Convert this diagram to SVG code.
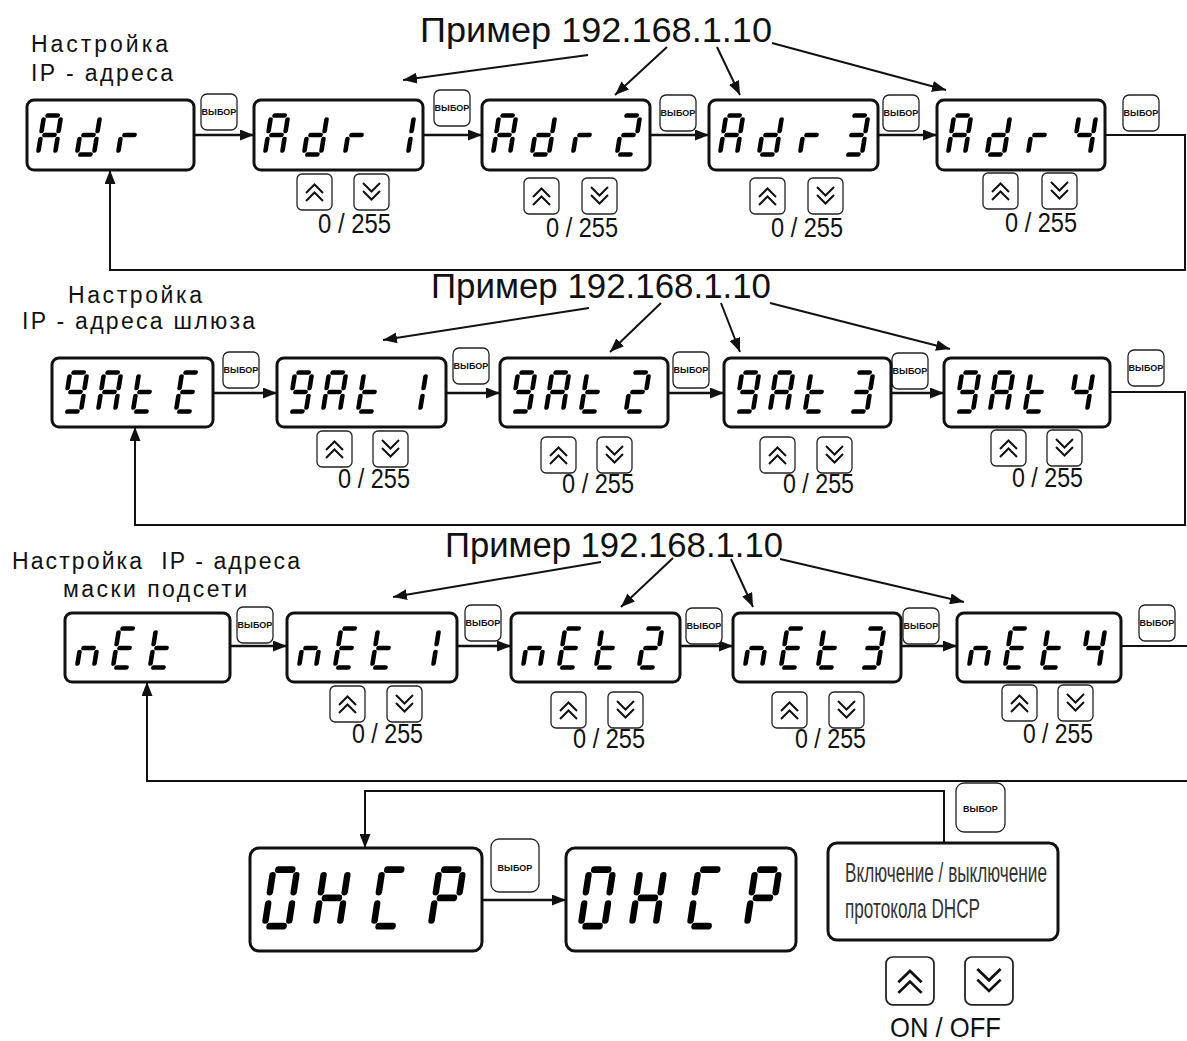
<svg xmlns="http://www.w3.org/2000/svg" xmlns:xlink="http://www.w3.org/1999/xlink" width="1187" height="1041" viewBox="0 0 1187 1041">
<style>
.box{fill:#fff;stroke:#111;stroke-width:3}
.btn{fill:#fff;stroke:#222;stroke-width:1.3}
.btxt{font-family:"Liberation Sans",Arial,sans-serif;font-weight:bold;font-size:9px;fill:#111}
.seg{stroke:#000;stroke-width:4.6;stroke-linecap:round}
.chev{fill:none;stroke:#111;stroke-width:2}
.lbl{font-family:"Liberation Sans",Arial,sans-serif;font-size:23px;fill:#111}
.ex{font-family:"Liberation Sans",Arial,sans-serif;font-size:35px;fill:#111}
.val{font-family:"Liberation Sans",Arial,sans-serif;font-size:28px;fill:#111}
.dtx{font-family:"Liberation Sans",Arial,sans-serif;font-size:28px;fill:#333}
.conn{fill:none;stroke:#111;stroke-width:2.5}
.thin{fill:none;stroke:#111;stroke-width:2}
</style>
<defs>
<marker id="ah" markerUnits="userSpaceOnUse" markerWidth="14" markerHeight="11" refX="14" refY="5.5" orient="auto"><path d="M0,0 L14,5.5 L0,11 z" fill="#111"/></marker>
<line id="sa" class="seg" x1="5" y1="2.5" x2="15" y2="2.5"/>
<line id="sb" class="seg" x1="18.5" y1="6.5" x2="18.5" y2="18"/>
<line id="sc" class="seg" x1="18.5" y1="26" x2="18.5" y2="37.5"/>
<line id="sd" class="seg" x1="5" y1="41.5" x2="15" y2="41.5"/>
<line id="se" class="seg" x1="1.5" y1="26" x2="1.5" y2="37.5"/>
<line id="sf" class="seg" x1="1.5" y1="6.5" x2="1.5" y2="18"/>
<line id="sg" class="seg" x1="5" y1="22" x2="15" y2="22"/>
<g id="cA"><use href="#sa"/><use href="#sb"/><use href="#sc"/><use href="#se"/><use href="#sf"/><use href="#sg"/></g>
<g id="cd"><use href="#sb"/><use href="#sc"/><use href="#sd"/><use href="#se"/><use href="#sg"/></g>
<g id="cr"><use href="#se"/><use href="#sg"/></g>
<g id="c1"><use href="#sb"/><use href="#sc"/></g>
<g id="c2"><use href="#sa"/><use href="#sb"/><use href="#sg"/><use href="#se"/><use href="#sd"/></g>
<g id="c3"><use href="#sa"/><use href="#sb"/><use href="#sg"/><use href="#sc"/><use href="#sd"/></g>
<g id="c4"><use href="#sf"/><use href="#sg"/><use href="#sb"/><use href="#sc"/></g>
<g id="c9"><use href="#sa"/><use href="#sb"/><use href="#sc"/><use href="#sd"/><use href="#sf"/><use href="#sg"/></g>
<g id="ct"><use href="#sf"/><use href="#se"/><use href="#sg"/><use href="#sd"/></g>
<g id="cE"><use href="#sa"/><use href="#sf"/><use href="#sg"/><use href="#se"/><use href="#sd"/></g>
<g id="cn"><use href="#sc"/><use href="#se"/><use href="#sg"/></g>
<g id="cO"><use href="#sa"/><use href="#sb"/><use href="#sc"/><use href="#sd"/><use href="#se"/><use href="#sf"/></g>
<g id="cH"><use href="#sb"/><use href="#sc"/><use href="#se"/><use href="#sf"/><use href="#sg"/></g>
<g id="cC"><use href="#sa"/><use href="#sd"/><use href="#se"/><use href="#sf"/></g>
<g id="cP"><use href="#sa"/><use href="#sb"/><use href="#se"/><use href="#sf"/><use href="#sg"/></g>
<g id="up"><rect class="btn" x="0" y="0" width="35" height="36" rx="5"/><polyline class="chev" points="9,19 17.5,10.5 26,19"/><polyline class="chev" points="9,27 17.5,18.5 26,27"/></g>
<g id="dn"><rect class="btn" x="0" y="0" width="35" height="36" rx="5"/><polyline class="chev" points="9,9 17.5,17.5 26,9"/><polyline class="chev" points="9,17 17.5,25.5 26,17"/></g>
<rect id="vb" class="btn" x="0" y="0" width="36" height="36" rx="6"/>
</defs>

<!-- labels -->
<g id="labels">
<text class="lbl" x="31" y="52" textLength="137" lengthAdjust="spacing">Настройка</text>
<text class="lbl" x="31" y="81" textLength="142" lengthAdjust="spacing">IP - адреса</text>
<text class="lbl" x="68" y="303" textLength="134" lengthAdjust="spacing">Настройка</text>
<text class="lbl" x="22" y="329" textLength="233" lengthAdjust="spacing">IP - адреса шлюза</text>
<text class="lbl" x="12" y="569" textLength="288" lengthAdjust="spacing">Настройка&#160; IP - адреса</text>
<text class="lbl" x="63" y="597" textLength="184" lengthAdjust="spacing">маски подсети</text>
<text class="ex" x="420" y="42" textLength="352" lengthAdjust="spacingAndGlyphs">Пример 192.168.1.10</text>
<text class="ex" x="431" y="298" textLength="340" lengthAdjust="spacingAndGlyphs">Пример 192.168.1.10</text>
<text class="ex" x="445" y="557" textLength="338" lengthAdjust="spacingAndGlyphs">Пример 192.168.1.10</text>
</g>

<!-- connectors -->
<g id="connectors">
<line class="thin" x1="588" y1="55" x2="403" y2="80" marker-end="url(#ah)"/>
<line class="thin" x1="667" y1="47" x2="615" y2="95" marker-end="url(#ah)"/>
<line class="thin" x1="717" y1="47" x2="740" y2="95" marker-end="url(#ah)"/>
<line class="thin" x1="772" y1="43" x2="946" y2="90" marker-end="url(#ah)"/>
<line class="thin" x1="589" y1="308" x2="383" y2="340" marker-end="url(#ah)"/>
<line class="thin" x1="661" y1="303" x2="610" y2="352" marker-end="url(#ah)"/>
<line class="thin" x1="721" y1="303" x2="740" y2="352" marker-end="url(#ah)"/>
<line class="thin" x1="770" y1="303" x2="950" y2="349" marker-end="url(#ah)"/>
<line class="thin" x1="601" y1="562" x2="393" y2="597" marker-end="url(#ah)"/>
<line class="thin" x1="673" y1="558" x2="621" y2="607" marker-end="url(#ah)"/>
<line class="thin" x1="731" y1="559" x2="753" y2="607" marker-end="url(#ah)"/>
<line class="thin" x1="780" y1="559" x2="964" y2="602" marker-end="url(#ah)"/>

<line class="conn" x1="194" y1="135" x2="254" y2="135" marker-end="url(#ah)"/>
<line class="conn" x1="423" y1="135" x2="482" y2="135" marker-end="url(#ah)"/>
<line class="conn" x1="650" y1="135" x2="709" y2="135" marker-end="url(#ah)"/>
<line class="conn" x1="878" y1="135" x2="937" y2="135" marker-end="url(#ah)"/>
<path class="thin" d="M1105,135 H1185 V270 H110 V170" marker-end="url(#ah)"/>

<line class="conn" x1="213" y1="393" x2="277" y2="393" marker-end="url(#ah)"/>
<line class="conn" x1="446" y1="393" x2="500" y2="393" marker-end="url(#ah)"/>
<line class="conn" x1="668" y1="393" x2="724" y2="393" marker-end="url(#ah)"/>
<line class="conn" x1="891" y1="393" x2="944" y2="393" marker-end="url(#ah)"/>
<path class="thin" d="M1110,392 H1185 V525 H135 V427" marker-end="url(#ah)"/>

<line class="conn" x1="230" y1="646" x2="287" y2="646" marker-end="url(#ah)"/>
<line class="conn" x1="457" y1="646" x2="511" y2="646" marker-end="url(#ah)"/>
<line class="conn" x1="680" y1="646" x2="733" y2="646" marker-end="url(#ah)"/>
<line class="conn" x1="901" y1="646" x2="957" y2="646" marker-end="url(#ah)"/>
<path class="thin" d="M1121,646 H1192 V781 H147 V682" marker-end="url(#ah)"/>

<path class="thin" d="M944,843 V791 H365 V848" stroke="#333" marker-end="url(#ah)"/>
<line class="conn" x1="482" y1="900" x2="566" y2="900" stroke="#333" marker-end="url(#ah)"/>
</g>

<!-- buttons ВЫБОР -->
<g id="btn-r1a"><use href="#vb" x="201" y="94"/><text class="btxt" x="219" y="115" text-anchor="middle">ВЫБОР</text></g>
<g id="btn-r1b"><use href="#vb" x="434" y="90"/><text class="btxt" x="452" y="111" text-anchor="middle">ВЫБОР</text></g>
<g id="btn-r1c"><use href="#vb" x="660" y="95"/><text class="btxt" x="678" y="116" text-anchor="middle">ВЫБОР</text></g>
<g id="btn-r1d"><use href="#vb" x="883" y="95"/><text class="btxt" x="901" y="116" text-anchor="middle">ВЫБОР</text></g>
<g id="btn-r1e"><use href="#vb" x="1123" y="95"/><text class="btxt" x="1141" y="116" text-anchor="middle">ВЫБОР</text></g>

<g id="btn-r2a"><use href="#vb" x="223" y="352"/><text class="btxt" x="241" y="373" text-anchor="middle">ВЫБОР</text></g>
<g id="btn-r2b"><use href="#vb" x="453" y="348"/><text class="btxt" x="471" y="369" text-anchor="middle">ВЫБОР</text></g>
<g id="btn-r2c"><use href="#vb" x="673" y="352"/><text class="btxt" x="691" y="373" text-anchor="middle">ВЫБОР</text></g>
<g id="btn-r2d"><use href="#vb" x="892" y="353"/><text class="btxt" x="910" y="374" text-anchor="middle">ВЫБОР</text></g>
<g id="btn-r2e"><use href="#vb" x="1128" y="350"/><text class="btxt" x="1146" y="371" text-anchor="middle">ВЫБОР</text></g>

<g id="btn-r3a"><use href="#vb" x="237" y="607"/><text class="btxt" x="255" y="628" text-anchor="middle">ВЫБОР</text></g>
<g id="btn-r3b"><use href="#vb" x="465" y="605"/><text class="btxt" x="483" y="626" text-anchor="middle">ВЫБОР</text></g>
<g id="btn-r3c"><use href="#vb" x="686" y="608"/><text class="btxt" x="704" y="629" text-anchor="middle">ВЫБОР</text></g>
<g id="btn-r3d"><use href="#vb" x="903" y="608"/><text class="btxt" x="921" y="629" text-anchor="middle">ВЫБОР</text></g>
<g id="btn-r3e"><use href="#vb" x="1139" y="605"/><text class="btxt" x="1157" y="626" text-anchor="middle">ВЫБОР</text></g>

<g id="btn-dhcp1"><rect class="btn" x="491" y="839" width="48" height="53" rx="8" stroke="#555"/><text class="btxt" x="515" y="871" text-anchor="middle" font-size="12" fill="#444">ВЫБОР</text></g>
<g id="btn-dhcp2"><rect class="btn" x="956" y="783" width="49" height="49" rx="8" stroke="#555"/><text class="btxt" x="980.5" y="812" text-anchor="middle" font-size="12" fill="#444">ВЫБОР</text></g>

<!-- Row 1 nodes -->
<g id="n-adr"><rect class="box" x="27" y="100" width="167" height="70" rx="7"/>
<use href="#cA" transform="translate(36,113) skewX(-9) translate(7,0)"/><use href="#cd" transform="translate(75,113) skewX(-9) translate(7,0)"/><use href="#cr" transform="translate(116,113) skewX(-9) translate(7,0)"/></g>
<g id="n-adr1"><rect class="box" x="254" y="100" width="169" height="70" rx="7"/>
<use href="#cA" transform="translate(263,113) skewX(-9) translate(7,0)"/><use href="#cd" transform="translate(302,113) skewX(-9) translate(7,0)"/><use href="#cr" transform="translate(343,113) skewX(-9) translate(7,0)"/><use href="#c1" transform="translate(389,113) skewX(-9) translate(7,0)"/>
<use href="#up" x="297" y="174"/><use href="#dn" x="354" y="174"/><text class="val" x="318" y="233" textLength="73" lengthAdjust="spacingAndGlyphs">0 / 255</text></g>
<g id="n-adr2"><rect class="box" x="482" y="100" width="168" height="70" rx="7"/>
<use href="#cA" transform="translate(491,113) skewX(-9) translate(7,0)"/><use href="#cd" transform="translate(530,113) skewX(-9) translate(7,0)"/><use href="#cr" transform="translate(571,113) skewX(-9) translate(7,0)"/><use href="#c2" transform="translate(615,113) skewX(-9) translate(7,0)"/>
<use href="#up" x="524" y="178"/><use href="#dn" x="582" y="178"/><text class="val" x="546" y="237" textLength="72" lengthAdjust="spacingAndGlyphs">0 / 255</text></g>
<g id="n-adr3"><rect class="box" x="709" y="100" width="169" height="70" rx="7"/>
<use href="#cA" transform="translate(718,113) skewX(-9) translate(7,0)"/><use href="#cd" transform="translate(757,113) skewX(-9) translate(7,0)"/><use href="#cr" transform="translate(798,113) skewX(-9) translate(7,0)"/><use href="#c3" transform="translate(843,113) skewX(-9) translate(7,0)"/>
<use href="#up" x="750" y="178"/><use href="#dn" x="808" y="178"/><text class="val" x="771" y="237" textLength="72" lengthAdjust="spacingAndGlyphs">0 / 255</text></g>
<g id="n-adr4"><rect class="box" x="937" y="100" width="168" height="70" rx="7"/>
<use href="#cA" transform="translate(946,113) skewX(-9) translate(7,0)"/><use href="#cd" transform="translate(985,113) skewX(-9) translate(7,0)"/><use href="#cr" transform="translate(1026,113) skewX(-9) translate(7,0)"/><use href="#c4" transform="translate(1071,113) skewX(-9) translate(7,0)"/>
<use href="#up" x="983" y="173"/><use href="#dn" x="1042" y="173"/><text class="val" x="1005" y="232" textLength="72" lengthAdjust="spacingAndGlyphs">0 / 255</text></g>

<!-- Row 2 nodes -->
<g id="n-gate"><rect class="box" x="52" y="358" width="161" height="69" rx="7"/>
<use href="#c9" transform="translate(62,370) skewX(-9) translate(7,0)"/><use href="#cA" transform="translate(96,370) skewX(-9) translate(7,0)"/><use href="#ct" transform="translate(131,370) skewX(-9) translate(7,0)"/><use href="#cE" transform="translate(174,370) skewX(-9) translate(7,0)"/></g>
<g id="n-gat1"><rect class="box" x="277" y="358" width="169" height="69" rx="7"/>
<use href="#c9" transform="translate(287,370) skewX(-9) translate(7,0)"/><use href="#cA" transform="translate(321,370) skewX(-9) translate(7,0)"/><use href="#ct" transform="translate(356,370) skewX(-9) translate(7,0)"/><use href="#c1" transform="translate(401,370) skewX(-9) translate(7,0)"/>
<use href="#up" x="317" y="431"/><use href="#dn" x="373" y="431"/><text class="val" x="338" y="488" textLength="72" lengthAdjust="spacingAndGlyphs">0 / 255</text></g>
<g id="n-gat2"><rect class="box" x="500" y="358" width="168" height="69" rx="7"/>
<use href="#c9" transform="translate(510,370) skewX(-9) translate(7,0)"/><use href="#cA" transform="translate(544,370) skewX(-9) translate(7,0)"/><use href="#ct" transform="translate(579,370) skewX(-9) translate(7,0)"/><use href="#c2" transform="translate(624,370) skewX(-9) translate(7,0)"/>
<use href="#up" x="541" y="437"/><use href="#dn" x="597" y="437"/><text class="val" x="562" y="493" textLength="72" lengthAdjust="spacingAndGlyphs">0 / 255</text></g>
<g id="n-gat3"><rect class="box" x="724" y="358" width="167" height="69" rx="7"/>
<use href="#c9" transform="translate(734,370) skewX(-9) translate(7,0)"/><use href="#cA" transform="translate(768,370) skewX(-9) translate(7,0)"/><use href="#ct" transform="translate(803,370) skewX(-9) translate(7,0)"/><use href="#c3" transform="translate(848,370) skewX(-9) translate(7,0)"/>
<use href="#up" x="760" y="437"/><use href="#dn" x="817" y="437"/><text class="val" x="783" y="493" textLength="71" lengthAdjust="spacingAndGlyphs">0 / 255</text></g>
<g id="n-gat4"><rect class="box" x="944" y="358" width="166" height="69" rx="7"/>
<use href="#c9" transform="translate(954,370) skewX(-9) translate(7,0)"/><use href="#cA" transform="translate(988,370) skewX(-9) translate(7,0)"/><use href="#ct" transform="translate(1023,370) skewX(-9) translate(7,0)"/><use href="#c4" transform="translate(1068,370) skewX(-9) translate(7,0)"/>
<use href="#up" x="991" y="430"/><use href="#dn" x="1047" y="430"/><text class="val" x="1012" y="487" textLength="71" lengthAdjust="spacingAndGlyphs">0 / 255</text></g>

<!-- Row 3 nodes -->
<g id="n-net"><rect class="box" x="65" y="613" width="165" height="69" rx="7"/>
<use href="#cn" transform="translate(75,626) skewX(-9) translate(7,0)"/><use href="#cE" transform="translate(111,626) skewX(-9) translate(7,0)"/><use href="#ct" transform="translate(148,626) skewX(-9) translate(7,0)"/></g>
<g id="n-net1"><rect class="box" x="287" y="613" width="170" height="69" rx="7"/>
<use href="#cn" transform="translate(297,626) skewX(-9) translate(7,0)"/><use href="#cE" transform="translate(333,626) skewX(-9) translate(7,0)"/><use href="#ct" transform="translate(370,626) skewX(-9) translate(7,0)"/><use href="#c1" transform="translate(414,626) skewX(-9) translate(7,0)"/>
<use href="#up" x="330" y="686"/><use href="#dn" x="387" y="686"/><text class="val" x="352" y="743" textLength="71" lengthAdjust="spacingAndGlyphs">0 / 255</text></g>
<g id="n-net2"><rect class="box" x="511" y="613" width="169" height="69" rx="7"/>
<use href="#cn" transform="translate(521,626) skewX(-9) translate(7,0)"/><use href="#cE" transform="translate(557,626) skewX(-9) translate(7,0)"/><use href="#ct" transform="translate(594,626) skewX(-9) translate(7,0)"/><use href="#c2" transform="translate(637,626) skewX(-9) translate(7,0)"/>
<use href="#up" x="551" y="692"/><use href="#dn" x="608" y="692"/><text class="val" x="573" y="748" textLength="72" lengthAdjust="spacingAndGlyphs">0 / 255</text></g>
<g id="n-net3"><rect class="box" x="733" y="613" width="168" height="69" rx="7"/>
<use href="#cn" transform="translate(743,626) skewX(-9) translate(7,0)"/><use href="#cE" transform="translate(779,626) skewX(-9) translate(7,0)"/><use href="#ct" transform="translate(816,626) skewX(-9) translate(7,0)"/><use href="#c3" transform="translate(859,626) skewX(-9) translate(7,0)"/>
<use href="#up" x="772" y="692"/><use href="#dn" x="829" y="692"/><text class="val" x="795" y="748" textLength="71" lengthAdjust="spacingAndGlyphs">0 / 255</text></g>
<g id="n-net4"><rect class="box" x="957" y="613" width="164" height="69" rx="7"/>
<use href="#cn" transform="translate(967,626) skewX(-9) translate(7,0)"/><use href="#cE" transform="translate(1003,626) skewX(-9) translate(7,0)"/><use href="#ct" transform="translate(1040,626) skewX(-9) translate(7,0)"/><use href="#c4" transform="translate(1080,626) skewX(-9) translate(7,0)"/>
<use href="#up" x="1002" y="685"/><use href="#dn" x="1058" y="685"/><text class="val" x="1023" y="743" textLength="70" lengthAdjust="spacingAndGlyphs">0 / 255</text></g>

<!-- DHCP -->
<g id="n-dhcp1"><rect class="box" x="250" y="848" width="232" height="103" rx="9" stroke="#333"/>
<g style="stroke-width:3.6"><use href="#cO" transform="translate(262,866) scale(1.4,1.45) skewX(-9) translate(7,0)"/><use href="#cH" transform="translate(313,866) scale(1.4,1.45) skewX(-9) translate(7,0)"/><use href="#cC" transform="translate(371,866) scale(1.4,1.45) skewX(-9) translate(7,0)"/><use href="#cP" transform="translate(428,866) scale(1.4,1.45) skewX(-9) translate(7,0)"/></g></g>
<g id="n-dhcp2"><rect class="box" x="566" y="848" width="230" height="103" rx="9" stroke="#333"/>
<use href="#cO" transform="translate(578,866) scale(1.4,1.45) skewX(-9) translate(7,0)"/><use href="#cH" transform="translate(629,866) scale(1.4,1.45) skewX(-9) translate(7,0)"/><use href="#cC" transform="translate(687,866) scale(1.4,1.45) skewX(-9) translate(7,0)"/><use href="#cP" transform="translate(744,866) scale(1.4,1.45) skewX(-9) translate(7,0)"/></g>
<g id="n-dhcp-info"><rect class="box" x="828" y="843" width="230" height="97" rx="9" stroke="#333"/>
<text class="dtx" x="845" y="882" textLength="202" lengthAdjust="spacingAndGlyphs">Включение / выключение</text>
<text class="dtx" x="845" y="918" textLength="135" lengthAdjust="spacingAndGlyphs">протокола DHCP</text>
<use href="#up" transform="translate(886,957) scale(1.37,1.33)"/><use href="#dn" transform="translate(965,957) scale(1.37,1.33)"/>
<text class="val" x="890" y="1037" textLength="111" lengthAdjust="spacingAndGlyphs" fill="#333" font-size="26">ON / OFF</text></g>
</svg>
